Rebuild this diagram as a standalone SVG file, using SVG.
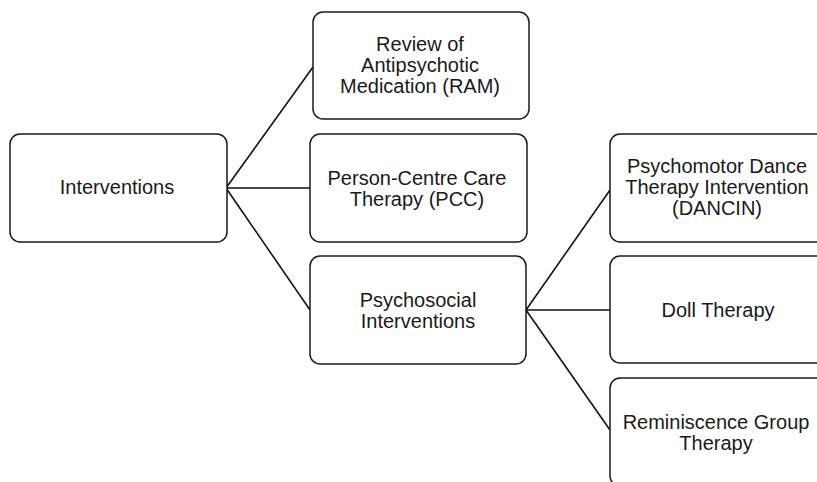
<svg xmlns="http://www.w3.org/2000/svg" width="817" height="482" viewBox="0 0 817 482">
<style>
.box{fill:#fff;stroke:#1a1a1a;stroke-width:1.5}
.lbl{font-family:"Liberation Sans",Arial,sans-serif;font-size:20px;fill:#1a1a1a;text-anchor:middle}
.conn line{stroke:#111;stroke-width:1.6}
</style>
<rect width="817" height="482" fill="#fff"/>
<g id="connectors" class="conn">
<line x1="226" y1="188" x2="313" y2="67"/>
<line x1="226" y1="188" x2="310" y2="188"/>
<line x1="226" y1="188" x2="310" y2="310"/>
<line x1="526" y1="310" x2="610" y2="190"/>
<line x1="526" y1="310" x2="610" y2="310"/>
<line x1="526" y1="310" x2="610" y2="430"/>
</g>
<g id="interventions">
<rect class="box" x="10" y="134" width="217" height="108" rx="10"/>
<text class="lbl" x="117" y="194">Interventions</text>
</g>
<g id="ram">
<rect class="box" x="313" y="12" width="216" height="107" rx="10"/>
<text class="lbl" x="420" y="50.5">Review of</text>
<text class="lbl" x="420" y="71.5">Antipsychotic</text>
<text class="lbl" x="420" y="92.5">Medication (RAM)</text>
</g>
<g id="pcc">
<rect class="box" x="310" y="134" width="217" height="108" rx="10"/>
<text class="lbl" x="417" y="185">Person-Centre Care</text>
<text class="lbl" x="417" y="206">Therapy (PCC)</text>
</g>
<g id="psychosocial">
<rect class="box" x="310" y="256" width="216" height="108" rx="10"/>
<text class="lbl" x="418" y="307">Psychosocial</text>
<text class="lbl" x="418" y="328">Interventions</text>
</g>
<g id="dancin">
<rect class="box" x="610" y="134" width="217" height="108" rx="10"/>
<text class="lbl" x="717" y="173">Psychomotor Dance</text>
<text class="lbl" x="717" y="194">Therapy Intervention</text>
<text class="lbl" x="717" y="215">(DANCIN)</text>
</g>
<g id="doll">
<rect class="box" x="610" y="256" width="217" height="107" rx="10"/>
<text class="lbl" x="718" y="317">Doll Therapy</text>
</g>
<g id="reminiscence">
<rect class="box" x="610" y="378" width="217" height="108" rx="10"/>
<text class="lbl" x="716" y="428.5">Reminiscence Group</text>
<text class="lbl" x="716" y="449.5">Therapy</text>
</g>
</svg>
